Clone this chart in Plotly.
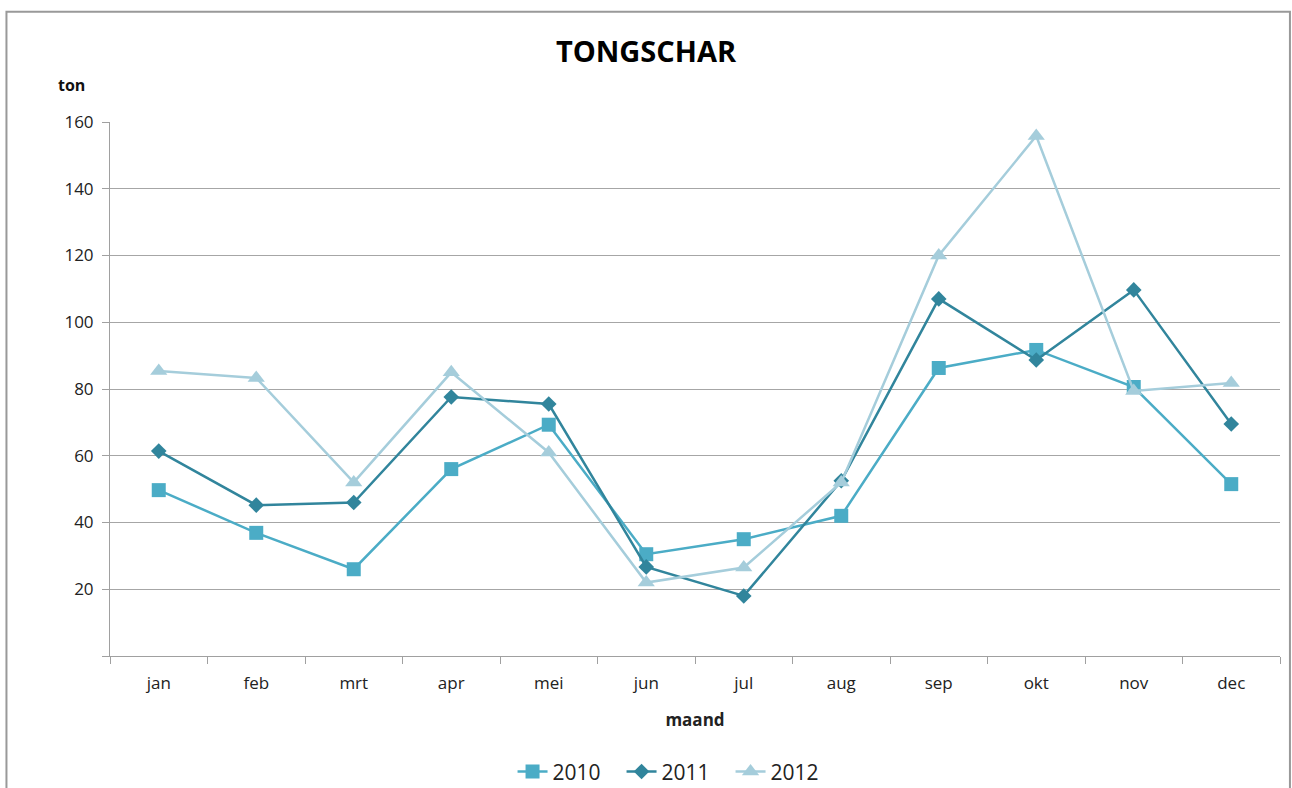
import plotly.graph_objects as go

months = ["jan", "feb", "mrt", "apr", "mei", "jun", "jul", "aug", "sep", "okt", "nov", "dec"]
v2010 = [49.7, 36.9, 26.0, 56.0, 69.3, 30.5, 35.0, 42.0, 86.3, 91.7, 80.6, 51.5]
v2011 = [61.4, 45.2, 46.0, 77.6, 75.5, 26.7, 18.0, 52.5, 107.0, 88.7, 109.7, 69.5]
v2012 = [85.4, 83.3, 52.0, 85.0, 61.0, 22.0, 26.5, 52.0, 120.0, 155.8, 79.4, 81.8]
ytick_vals = [0, 20, 40, 60, 80, 100, 120, 140, 160]
ytick_text = ["", "20", "40", "60", "80", "100", "120", "140", "160"]

FONT = "Open Sans"

fig = go.Figure()
fig.add_trace(go.Scatter(x=months, y=v2010, name="2010", mode="lines+markers",
                         line=dict(color="#4BACC6", width=2.5),
                         marker=dict(symbol="square", size=14, color="#4BACC6")))
fig.add_trace(go.Scatter(x=months, y=v2011, name="2011", mode="lines+markers",
                         line=dict(color="#31859C", width=2.5),
                         marker=dict(symbol="diamond", size=12, color="#31859C")))
fig.add_trace(go.Scatter(x=months, y=v2012, name="2012", mode="lines+markers",
                         line=dict(color="#A5CDDB", width=2.5),
                         marker=dict(symbol="triangle-up", size=15, color="#A5CDDB")))

fig.update_layout(
    width=1292, height=788,
    margin=dict(l=110, r=12, t=122, b=132, autoexpand=False),
    paper_bgcolor="white", plot_bgcolor="white",
    font=dict(family=FONT, size=16, color="#222222"),
    title=dict(text="<b>TONGSCHAR</b>", x=0.5, xanchor="center", y=0.934, yanchor="middle",
               font=dict(family=FONT, size=29, color="#000000")),
    showlegend=True,
    legend=dict(orientation="h", x=0.4838, xanchor="center", y=-0.217, yanchor="middle",
                font=dict(family=FONT, size=21, color="#222222"),
                entrywidth=64, entrywidthmode="pixels"),
    xaxis=dict(type="category", range=[-0.5, 11.5], tickson="boundaries", ticks="outside", ticklen=7,
               tickcolor="#A0A0A0", showline=True, linecolor="#A0A0A0", linewidth=1,
               showgrid=False, tickfont=dict(size=17), ticklabelstandoff=12,
               title=dict(text="<b>maand</b>", font=dict(size=17), standoff=20)),
    yaxis=dict(range=[0, 160], tickvals=ytick_vals, ticktext=ytick_text, ticks="outside",
               ticklen=7, tickcolor="#A0A0A0", showline=True, linecolor="#A0A0A0",
               showgrid=True, gridcolor="#A6A6A6", gridwidth=1, zeroline=False,
               tickfont=dict(size=17), ticklabelstandoff=5),
    annotations=[dict(text="<b>ton</b>", xref="paper", yref="paper", x=-0.0325, y=1.07,
                      xanchor="center", yanchor="middle", showarrow=False,
                      font=dict(family=FONT, size=16, color="#111111"))],
    shapes=[dict(type="rect", xref="paper", yref="paper", x0=-0.0885, x1=1.0085,
                 y0=-0.3, y1=1.2065, line=dict(color="#999999", width=2))],
)

fig.write_html("out.html", config={"displayModeBar": False},
               post_script="document.body.style.margin='0';document.body.style.overflow='hidden';")
